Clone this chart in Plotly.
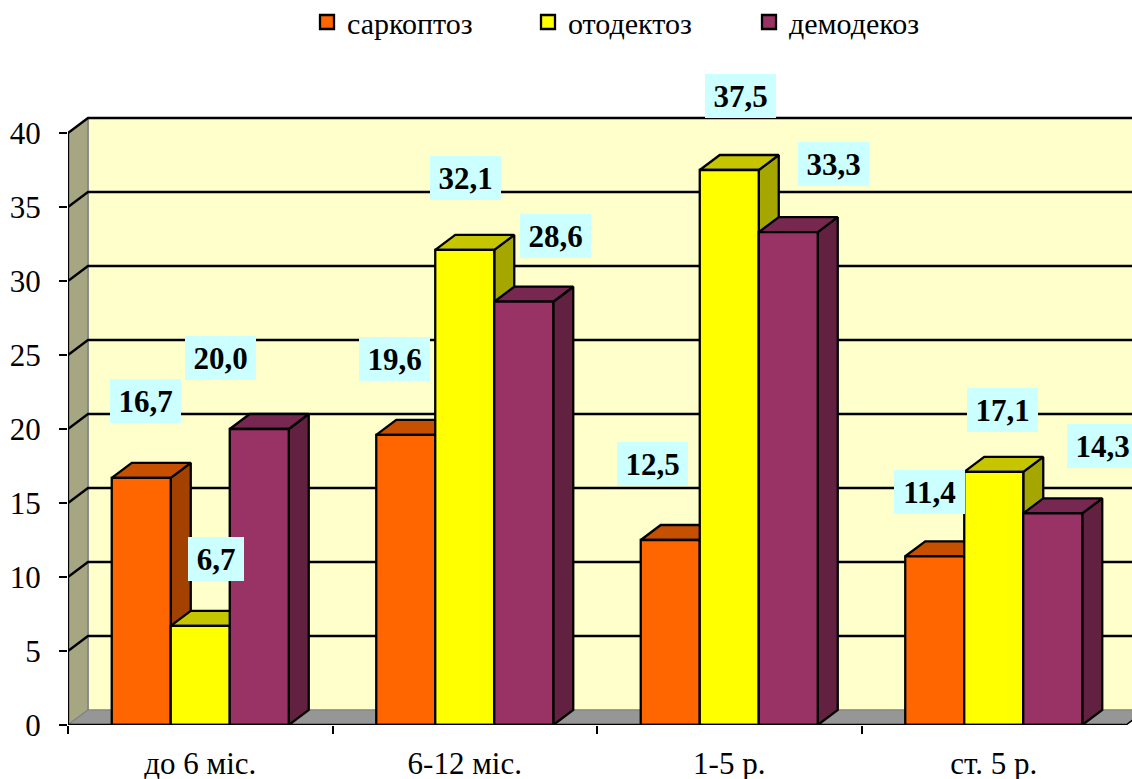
import plotly.graph_objects as go

# ---- data ----
categories = ["до 6 міс.", "6-12 міс.", "1-5 р.", "ст. 5 р."]
series_names = ["саркоптоз", "отодектоз", "демодекоз"]
sarcoptosis = [16.7, 19.6, 12.5, 11.4]
otodectosis = [6.7, 32.1, 37.5, 17.1]
demodecosis = [20.0, 28.6, 33.3, 14.3]
y_ticks = [0, 5, 10, 15, 20, 25, 30, 35, 40]

# ---- styles ----
front_colors = ["#FF6600", "#FFFF00", "#993366"]
top_colors = ["#C65000", "#C6C600", "#772850"]
side_colors = ["#A34200", "#A6A600", "#632142"]
WALL = "#FFFFCC"
LEFT_WALL = "#A6A682"
FLOOR = "#969696"
LABEL_BG = "#CCFFFF"
SERIF = "Liberation Serif"

# label offsets from the top-centre of each bar (pixels)
label_dx = [[4, -11, -18, -5], [16, 1, 11, 9], [-39, 32, 45, 50]]
label_dy = [[-77, -76, -76, -64], [-67, -72, -74, -62], [-71, -66, -68, -67]]

# ---- geometry ----
FIG_W, FIG_H = 1132, 779
M_L, M_T, M_B = 68, 111, 54
PX_X = 264.5            # pixels per category
PX_Y = 14.8             # pixels per value unit
DX = 20 / PX_X          # oblique depth, x units
DY = 15 / PX_Y          # oblique depth, y units
BAR_W = 59 / PX_X
n_cat = len(categories)
y_top = y_ticks[-1]
x_end = n_cat
LW = 2.3
PLOT_W = FIG_W - M_L
PLOT_H = FIG_H - M_T - M_B

values = [sarcoptosis, otodectosis, demodecosis]
fig = go.Figure()


def poly(xs, ys, fill, line="black", width=LW, name=None):
    fig.add_trace(go.Scatter(x=xs, y=ys, mode="lines", fill="toself", fillcolor=fill,
                             line=dict(color=line, width=width), showlegend=False,
                             hoverinfo="skip", name=name))


def path(xs, ys, color="black", width=LW, clip=True):
    fig.add_trace(go.Scatter(x=xs, y=ys, mode="lines", line=dict(color=color, width=width),
                             showlegend=False, hoverinfo="skip", cliponaxis=clip))


# walls and floor
poly([DX, x_end + DX, x_end + DX, DX, DX], [DY, DY, y_top + DY, y_top + DY, DY], WALL, "#808080", 1)
poly([0, DX, DX, 0, 0], [0, DY, y_top + DY, y_top, 0], LEFT_WALL, "#808080", 1.5)
poly([0, DX, x_end + DX, x_end, 0], [0, DY, DY, 0, 0], FLOOR, "#808080", 1)

# gridlines on the back wall and across the left wall
for v in y_ticks[1:]:
    path([0, DX, x_end + DX], [v, v + DY, v + DY])

# bars: side, top, then front for each series, in depth order
for i, vals in enumerate(values):
    side_x, side_y, top_x, top_y, fr_x, fr_y = [], [], [], [], [], []
    for j, v in enumerate(vals):
        x0 = j + 0.5 + (i - 1.5) * BAR_W
        x1 = x0 + BAR_W
        side_x += [x1, x1 + DX, x1 + DX, x1, x1, None]
        side_y += [0, DY, v + DY, v, 0, None]
        top_x += [x0, x0 + DX, x1 + DX, x1, x0, None]
        top_y += [v, v + DY, v + DY, v, v, None]
        fr_x += [x0, x1, x1, x0, x0, None]
        fr_y += [0, 0, v, v, 0, None]
    poly(side_x, side_y, side_colors[i])
    poly(top_x, top_y, top_colors[i])
    poly(fr_x, fr_y, front_colors[i], name=series_names[i])

# axis lines, plus the closing tick and the floor's outer edge at the right end
path([0, 0], [0, y_top], "black", 2.3, clip=False)
path([x_end + DX, x_end, x_end, x_end], [DY, 0, 0, -8 / PX_Y], "black", 1.5, clip=False)
path([0, x_end], [0, 0], "black", 2.6, clip=False)

# legend entries
for i, name in enumerate(series_names):
    fig.add_trace(go.Scatter(x=[None], y=[None], mode="markers", name=name,
                             marker=dict(symbol="square", size=14, color=front_colors[i],
                                         line=dict(color="black", width=2.3))))

# data labels
for i, vals in enumerate(values):
    for j, v in enumerate(vals):
        txt = f"{v:.1f}".replace(".", ",")
        fig.add_annotation(x=j + 0.5 + (i - 1) * BAR_W, y=v, xref="x", yref="y",
                           text=f"<b>{txt}</b>", showarrow=False,
                           xshift=label_dx[i][j], yshift=-label_dy[i][j],
                           xanchor="center", yanchor="middle",
                           width=71 if len(txt) > 3 else 56, height=44,
                           bgcolor=LABEL_BG, borderpad=0, borderwidth=0,
                           font=dict(family=SERIF, size=31, color="black"))

fig.update_layout(
    width=FIG_W, height=FIG_H, paper_bgcolor="white", plot_bgcolor="white",
    margin=dict(l=M_L, r=0, t=M_T, b=M_B, autoexpand=False),
    font=dict(family=SERIF, color="black"),
    showlegend=True,
    legend=dict(orientation="h", xref="paper", yref="paper",
                x=(307 - M_L) / PLOT_W, y=1 + (M_T + 4) / PLOT_H, xanchor="left", yanchor="top",
                font=dict(family=SERIF, size=30), itemwidth=30,
                entrywidth=176, entrywidthmode="pixels",
                bgcolor="rgba(0,0,0,0)"),
    xaxis=dict(range=[0, PLOT_W / PX_X], showgrid=False, zeroline=False, showline=False,
               tickmode="array", tickvals=[j + 0.5 for j in range(n_cat)], ticktext=categories,
               ticklen=0, ticklabelstandoff=17, tickfont=dict(family=SERIF, size=31, color="black"),
               minor=dict(tickmode="array", tickvals=list(range(n_cat)), ticks="outside",
                          ticklen=8, tickwidth=1.5, tickcolor="black", showgrid=False)),
    yaxis=dict(range=[0, PLOT_H / PX_Y], showgrid=False, zeroline=False, showline=False,
               tickmode="array", tickvals=y_ticks, ticks="outside", ticklen=8, tickwidth=1.5,
               tickcolor="black", ticklabelstandoff=12,
               tickfont=dict(family=SERIF, size=31, color="black")),
)

fig.write_html("out.html", config={"displayModeBar": False},
               post_script="document.body.style.margin='0';")
